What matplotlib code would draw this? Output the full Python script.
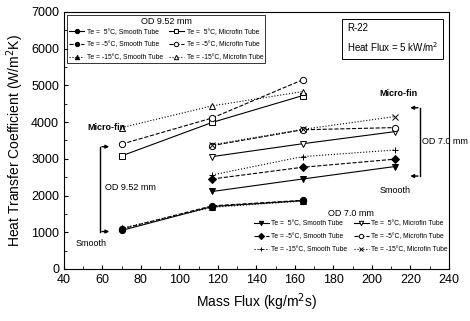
import matplotlib
matplotlib.use('Agg')
import matplotlib.pyplot as plt
from matplotlib.ticker import MultipleLocator

plt.rcParams['font.family'] = ['Liberation Sans', 'DejaVu Sans']

# OD 9.52 mm
x_952 = [70, 117, 164]
smooth_952_5 = [1050, 1700, 1860]
smooth_952_m5 = [1090, 1720, 1870]
smooth_952_m15 = [1110, 1680, 1850]
micro_952_5 = [3080, 3990, 4720]
micro_952_m5 = [3400, 4110, 5150]
micro_952_m15 = [3850, 4440, 4830]

# OD 7.0 mm
x_70 = [117, 164, 212]
smooth_70_5 = [2110, 2450, 2790]
smooth_70_m5 = [2450, 2770, 2990]
smooth_70_m15 = [2560, 3060, 3240]
micro_70_5 = [3060, 3410, 3740]
micro_70_m5 = [3360, 3790, 3850]
micro_70_m15 = [3380, 3800, 4150]

fig = plt.figure(figsize=(4.7, 3.21), dpi=100)
ax = fig.add_axes([0.136, 0.162, 0.819, 0.801])

kw = dict(color='black', lw=0.8, ms=4.5, mew=0.7)
h1 = []
h1 += ax.plot(x_952, smooth_952_5, '-', marker='o', label='Te =  5\u00b0C, Smooth Tube', **kw)
h1 += ax.plot(x_952, smooth_952_m5, '--', marker='o', label='Te = -5\u00b0C, Smooth Tube', **kw)
h1 += ax.plot(x_952, smooth_952_m15, ':', marker='^', label='Te = -15\u00b0C, Smooth Tube', **kw)
h1 += ax.plot(x_952, micro_952_5, '-', marker='s', mfc='white', label='Te =  5\u00b0C, Microfin Tube', **kw)
h1 += ax.plot(x_952, micro_952_m5, '--', marker='o', mfc='white', label='Te = -5\u00b0C, Microfin Tube', **kw)
h1 += ax.plot(x_952, micro_952_m15, ':', marker='^', mfc='white', label='Te = -15\u00b0C, Microfin Tube', **kw)

h2 = []
h2 += ax.plot(x_70, smooth_70_5, '-', marker='v', label='Te =  5\u00b0C, Smooth Tube', **kw)
h2 += ax.plot(x_70, smooth_70_m5, '--', marker='D', label='Te = -5\u00b0C, Smooth Tube', **kw)
h2 += ax.plot(x_70, smooth_70_m15, ':', marker='+', label='Te = -15\u00b0C, Smooth Tube', **kw)
h2 += ax.plot(x_70, micro_70_5, '-', marker='v', mfc='white', label='Te =  5\u00b0C, Microfin Tube', **kw)
h2 += ax.plot(x_70, micro_70_m5, '--', marker='o', mfc='white', label='Te = -5\u00b0C, Microfin Tube', **kw)
h2 += ax.plot(x_70, micro_70_m15, ':', marker='x', label='Te = -15\u00b0C, Microfin Tube', **kw)

ax.set_xlim(40, 240)
ax.set_ylim(0, 7000)
ax.xaxis.set_major_locator(MultipleLocator(20))
ax.xaxis.set_minor_locator(MultipleLocator(10))
ax.yaxis.set_major_locator(MultipleLocator(1000))
ax.yaxis.set_minor_locator(MultipleLocator(500))
ax.tick_params(which='both', direction='in', labelsize=9)
ax.tick_params(which='major', length=3)
ax.tick_params(which='minor', length=2)
ax.set_xlabel('Mass Flux (kg/m$^2$s)', fontsize=10)
ax.set_ylabel('Heat Transfer Coefficient (W/m$^2$K)', fontsize=10)

leg_kw = dict(ncol=2, fontsize=4.9, title_fontsize=6.5, handlelength=2.2,
              handletextpad=0.4, columnspacing=0.9, borderpad=0.25,
              labelspacing=0.85, markerscale=0.7)
leg1 = ax.legend(handles=h1, loc='upper left', bbox_to_anchor=(0.0, 1.0),
                 title='OD 9.52 mm', frameon=True, fancybox=False,
                 edgecolor='black', **leg_kw)
leg1.get_frame().set_linewidth(0.7)
leg1._legend_box.sep = 2
ax.add_artist(leg1)
leg2 = ax.legend(handles=h2, loc='upper left', bbox_to_anchor=(0.48, 0.255),
                 title='OD 7.0 mm', frameon=False, **leg_kw)
leg2._legend_box.sep = 2

ax.text(0.735, 0.955, 'R-22\nHeat Flux = 5 kW/m$^2$', transform=ax.transAxes,
        fontsize=7, va='top', ha='left', linespacing=1.6,
        bbox=dict(boxstyle='square,pad=0.5', fc='white', ec='black', lw=0.7))

# bracket for OD 9.52 mm
ax.plot([58.7, 58.7], [1020, 3330], color='black', lw=1.0)
ax.annotate('', xy=(65, 3330), xytext=(58.3, 3330),
            arrowprops=dict(arrowstyle='-|>', color='black', lw=1.0, mutation_scale=5))
ax.annotate('', xy=(65, 1020), xytext=(58.3, 1020),
            arrowprops=dict(arrowstyle='-|>', color='black', lw=1.0, mutation_scale=5))
ax.text(61.5, 2230, 'OD 9.52 mm', fontsize=6.5, va='center', ha='left')
ax.text(52, 3850, 'Micro-fin', fontsize=6.5, fontweight='bold', va='center', ha='left')
ax.text(46, 700, 'Smooth', fontsize=6.5, va='center', ha='left')

# bracket for OD 7.0 mm
ax.plot([225, 225], [2530, 4390], color='black', lw=1.0)
ax.annotate('', xy=(218.5, 4390), xytext=(225.4, 4390),
            arrowprops=dict(arrowstyle='-|>', color='black', lw=1.0, mutation_scale=5))
ax.annotate('', xy=(218.5, 2530), xytext=(225.4, 2530),
            arrowprops=dict(arrowstyle='-|>', color='black', lw=1.0, mutation_scale=5))
ax.text(225.8, 3460, 'OD 7.0 mm', fontsize=6.5, va='center', ha='left')
ax.text(204, 4790, 'Micro-fin', fontsize=6.5, fontweight='bold', va='center', ha='left')
ax.text(204, 2150, 'Smooth', fontsize=6.5, va='center', ha='left')

fig.savefig('out.png', dpi=100)
